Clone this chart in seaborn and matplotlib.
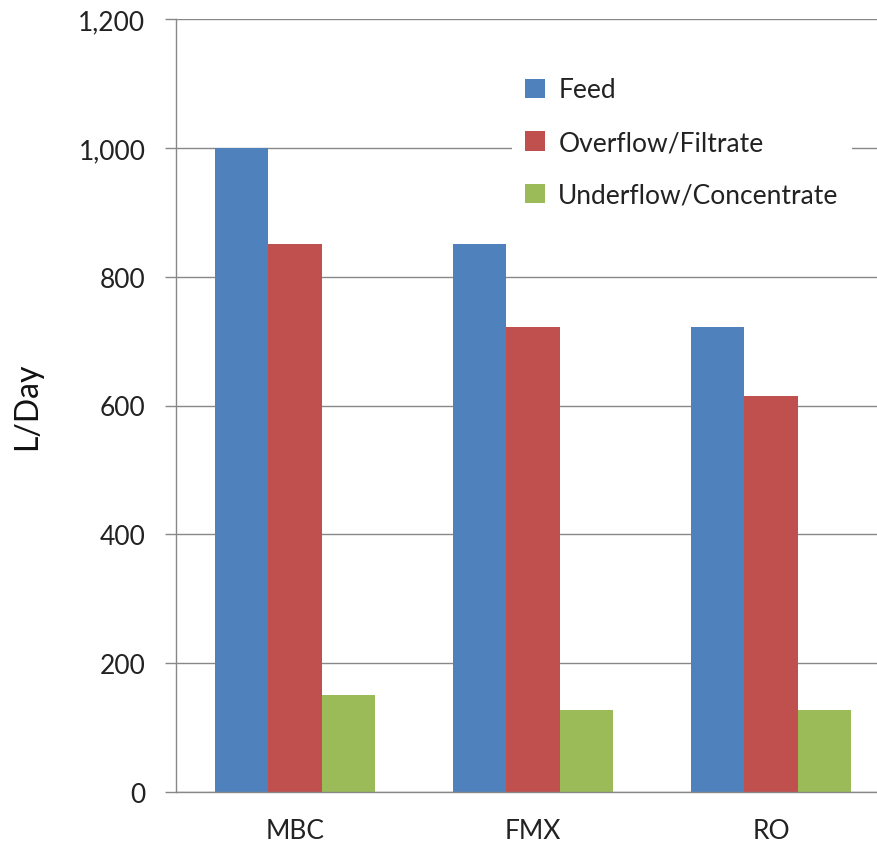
import matplotlib
matplotlib.use("Agg")
import matplotlib.pyplot as plt
import seaborn as sns
import pandas as pd
from matplotlib.patches import Patch

categories = ["MBC", "FMX", "RO"]
series = ["Feed", "Overflow/Filtrate", "Underflow/Concentrate"]
feed = [1000, 850, 722]
overflow = [850, 722, 614]
underflow = [150, 127, 127]
colors = ["#4F81BD", "#C0504D", "#9BBB59"]
yticks = [0, 200, 400, 600, 800, 1000, 1200]
ytick_labels = ["0", "200", "400", "600", "800", "1,000", "1,200"]

rows = []
for name, vals in zip(series, [feed, overflow, underflow]):
    for c, v in zip(categories, vals):
        rows.append({"cat": c, "series": name, "val": v})
df = pd.DataFrame(rows)

sns.set_style("white")
plt.rcParams["font.family"] = ["Lato", "DejaVu Sans"]

W, H = 877, 845
fig = plt.figure(figsize=(W / 100, H / 100), dpi=100)
left, right, bottom, top = 176, 890, 845 - 793, 845 - 20
ax = fig.add_axes([left / W, bottom / H, (right - left) / W, (top - bottom) / H])

sns.barplot(data=df, x="cat", y="val", hue="series", order=categories,
            hue_order=series, palette=colors, width=0.67, linewidth=0,
            saturation=1, ax=ax, legend=False, errorbar=None)

ax.set_xlim(-0.5, 2.5)
ax.set_ylim(0, 1200)
ax.set_yticks(yticks)
ax.set_yticklabels(ytick_labels)
grid_c = "#888888"
ax.yaxis.grid(True, color=grid_c, linewidth=1.0)
ax.set_axisbelow(True)
for s in ["top", "right"]:
    ax.spines[s].set_visible(False)
for s in ["left", "bottom"]:
    ax.spines[s].set_color(grid_c)
    ax.spines[s].set_linewidth(1.0)

ax.set_xticks([0, 1, 2])
ax.set_xticklabels(categories)
ax.set_xticks([-0.5, 0.5, 1.5, 2.5], minor=True)
ax.tick_params(axis="x", which="major", length=0, pad=19, labelsize=19, colors="#222222")
ax.tick_params(axis="x", which="minor", length=8, width=1, color=grid_c, direction="out")
ax.tick_params(axis="y", length=8, width=1, color=grid_c, direction="out", pad=14,
               labelsize=19, labelcolor="#222222", left=True)
ax.set_xlabel("")
ax.set_ylabel("L/Day", fontsize=23, labelpad=26, color="#111111")

handles = [Patch(facecolor=c, edgecolor="none") for c in colors]
leg = fig.legend(handles, series, loc="upper left",
                 bbox_to_anchor=(499 / W, 1 - 52 / H), frameon=True,
                 fontsize=19, handlelength=0.75, handleheight=0.75,
                 handletextpad=0.5, labelspacing=1.05, borderpad=0.5,
                 fancybox=False)
leg.get_frame().set_facecolor("white")
leg.get_frame().set_edgecolor("none")
leg.get_frame().set_alpha(1)
for t in leg.get_texts():
    t.set_color("#222222")

fig.savefig("out.png", dpi=100)
